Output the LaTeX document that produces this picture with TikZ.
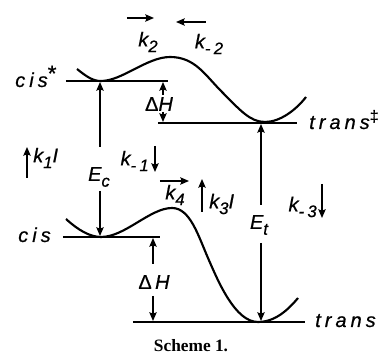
\documentclass[tikz,border=0pt]{standalone}
\usepackage{fontspec}
\setmainfont{Liberation Serif}
\newfontfamily\labfont[LetterSpace=20,FakeBold=0.6]{Liberation Sans}
\usetikzlibrary{arrows.meta}
\newcommand{\sbs}[1]{\raisebox{-0.55ex}{\fontsize{12.5}{12.5}\selectfont #1}}
\newcommand{\bigstar}{\raisebox{0.55ex}{\upshape\fontsize{17}{17}\selectfont *}}
\newcommand{\bigddag}{\raisebox{0.7ex}{\upshape\fontsize{12}{12}\selectfont ‡}}
\begin{document}
\begin{tikzpicture}[x=0.75pt,y=-0.75pt,
  curve/.style={line width=1.6pt},
  level/.style={line width=1.2pt},
  arr/.style={line width=1pt,-{Stealth[length=6.5pt,width=5.5pt,inset=1pt]}},
  lab/.style={font=\labfont\itshape\fontsize{15}{15}\selectfont, inner sep=0pt},
]
\useasboundingbox (0,0) rectangle (380,356);
% potential curves
\draw[curve] (77,69) .. controls (87,77) and (93,81) .. (101,81)
  .. controls (122,81) and (147,57) .. (170,57)
  .. controls (195,57) and (205,75) .. (222,92)
  .. controls (240,110) and (250,122) .. (265,122)
  .. controls (280,122) and (296,110) .. (306,97);
\draw[curve] (66,219) .. controls (78,230) and (90,237) .. (101,237)
  .. controls (125,237) and (150,208) .. (172,208)
  .. controls (190,208) and (198,235) .. (208,258)
  .. controls (218,281) and (235,322) .. (258,322)
  .. controls (275,322) and (288,310) .. (298,298);
% level lines
\coordinate (cs1) at (66,81);  \coordinate (cs2) at (168,81);
\coordinate (ts1) at (158,123); \coordinate (ts2) at (297,123);
\coordinate (c1) at (63,237);  \coordinate (c2) at (160,237);
\coordinate (t1) at (133,322); \coordinate (t2) at (305,322);
\draw[level] (cs1) -- (cs2);
\draw[level] (ts1) -- (ts2);
\draw[level] (c1) -- (c2);
\draw[level] (t1) -- (t2);
% state labels
\node[lab,anchor=base west] (cisstar) at (15,87) {cis\bigstar};
\node[lab,anchor=base west] (transdd) at (309,129) {trans\bigddag};
\node[lab,anchor=base west] (cis) at (18,242) {cis};
\node[lab,anchor=base west] (trans) at (315,327) {trans};
% E_c
\node[lab] (Ec) at (99,177) {E\sbs{c}};
\coordinate (ec1) at (100,147); \coordinate (ec2) at (100,82);
\coordinate (ec3) at (100,191); \coordinate (ec4) at (100,236);
\draw[arr] (ec1) -- (ec2);
\draw[arr] (ec3) -- (ec4);
% E_t
\node[lab] (Et) at (259,225) {E\sbs{t}};
\coordinate (et1) at (261,205); \coordinate (et2) at (261,124);
\coordinate (et3) at (261,243); \coordinate (et4) at (261,321);
\draw[arr] (et1) -- (et2);
\draw[arr] (et3) -- (et4);
% Delta H upper
\node[lab] (dh1) at (159,104) {{\upshape Δ}H};
\coordinate (d1a) at (163,95); \coordinate (d1b) at (163,82);
\coordinate (d1c) at (163,112); \coordinate (d1d) at (163,122);
\draw[arr] (d1a) -- (d1b);
\draw[arr] (d1c) -- (d1d);
% Delta H lower
\node[lab] (dh2) at (154,282) {{\upshape Δ}\,H};
\coordinate (d2a) at (153,264); \coordinate (d2b) at (153,238);
\coordinate (d2c) at (153,296); \coordinate (d2d) at (153,321);
\draw[arr] (d2a) -- (d2b);
\draw[arr] (d2c) -- (d2d);
% rate labels
\node[lab,anchor=west] (k1) at (33,158) {k\sbs{1}I};
\coordinate (k1a) at (27,178); \coordinate (k1b) at (27,147);
\draw[arr] (k1a) -- (k1b);
\node[lab,anchor=east] (km1) at (149,161) {k\sbs{-1}};
\coordinate (km1a) at (155,146); \coordinate (km1b) at (155,172);
\draw[arr] (km1a) -- (km1b);
\node[lab] (k4) at (175,195) {k\sbs{4}};
\coordinate (k4a) at (160,181); \coordinate (k4b) at (189,181);
\draw[arr] (k4a) -- (k4b);
\node[lab,anchor=west] (k3) at (209,204) {k\sbs{3}I};
\coordinate (k3a) at (202,212); \coordinate (k3b) at (202,179);
\draw[arr] (k3a) -- (k3b);
\node[lab,anchor=east] (km3) at (317,207) {k\sbs{-3}};
\coordinate (km3a) at (322,184); \coordinate (km3b) at (322,218);
\draw[arr] (km3a) -- (km3b);
\node[lab] (k2) at (148,42) {k\sbs{2}};
\coordinate (k2a) at (127,18); \coordinate (k2b) at (154,18);
\draw[arr] (k2a) -- (k2b);
\node[lab] (km2) at (209,44) {k\sbs{-2}};
\coordinate (km2a) at (206,22); \coordinate (km2b) at (176,22);
\draw[arr] (km2a) -- (km2b);
% caption
\node[font=\bfseries\fontsize{13}{13}\selectfont, inner sep=0pt] (cap) at (191,346) {Scheme 1.};
\end{tikzpicture}
\end{document}
